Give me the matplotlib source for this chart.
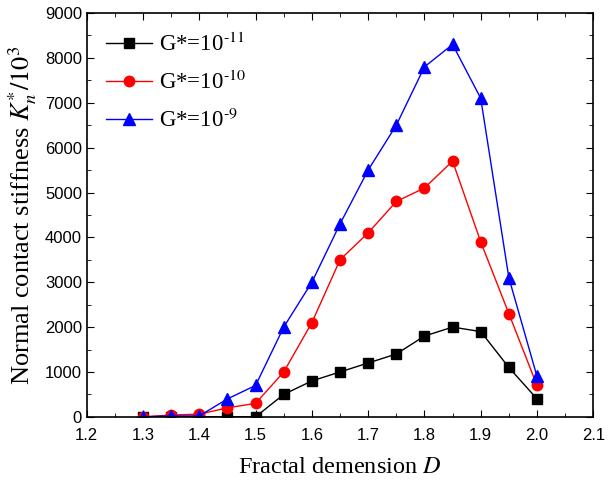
import matplotlib
matplotlib.use("Agg")
import matplotlib.pyplot as plt
from matplotlib.ticker import MultipleLocator, FormatStrFormatter

# Fractal dimension D
D = [1.30, 1.35, 1.40, 1.45, 1.50, 1.55, 1.60, 1.65, 1.70, 1.75, 1.80, 1.85, 1.90, 1.95, 2.00]
# normal contact stiffness K_n*/10^3 for each G*
k_g11 = [0, 0, 0, 0, 0, 500, 800, 1000, 1200, 1400, 1800, 2000, 1900, 1100, 400]
k_g10 = [0, 40, 60, 200, 300, 1000, 2100, 3500, 4100, 4800, 5100, 5700, 3900, 2300, 700]
k_g9 = [0, 20, 20, 400, 700, 2000, 3000, 4300, 5500, 6500, 7800, 8300, 7100, 3100, 900]

labels = [r'G*=10$^{\text{-}11}$', r'G*=10$^{\text{-}10}$', r'G*=10$^{\text{-}9}$']

plt.rcParams['mathtext.fontset'] = 'stix'

fig = plt.figure(figsize=(6.11, 4.83), dpi=100)
ax = fig.add_axes([0.142, 0.137, 0.829, 0.836])

ax.plot(D, k_g11, color='black', marker='s', markersize=6.5, lw=1, label=labels[0])
ax.plot(D, k_g10, color='red', marker='o', markersize=7.5, lw=1, label=labels[1])
ax.plot(D, k_g9, color='blue', marker='^', markersize=8, lw=1, label=labels[2])

ax.set_xlim(1.2, 2.1)
ax.set_ylim(0, 9000)
ax.xaxis.set_major_locator(MultipleLocator(0.1))
ax.xaxis.set_minor_locator(MultipleLocator(0.05))
ax.yaxis.set_major_locator(MultipleLocator(1000))
ax.yaxis.set_minor_locator(MultipleLocator(500))
ax.xaxis.set_major_formatter(FormatStrFormatter('%.1f'))

ax.tick_params(which='both', direction='in', top=True, right=True, labelsize=12)
ax.tick_params(axis='x', pad=8)
ax.tick_params(which='major', length=5)
ax.tick_params(which='minor', length=3)
for lab in ax.get_xticklabels() + ax.get_yticklabels():
    lab.set_family('Liberation Sans')
for sp in ax.spines.values():
    sp.set_linewidth(1.2)

ax.set_xlabel('Fractal demension $D$', fontsize=17.5, family='Liberation Serif', labelpad=10)
ax.set_ylabel('Normal contact stiffness $K_n^{*}/10^3$', fontsize=19, family='Liberation Serif', labelpad=4)

leg = ax.legend(loc='upper left', frameon=False, prop={'family': 'Liberation Serif', 'size': 16.5},
                handlelength=2.0, handletextpad=0.3, labelspacing=0.65, borderaxespad=0.45)

fig.savefig('out.png', dpi=100)
